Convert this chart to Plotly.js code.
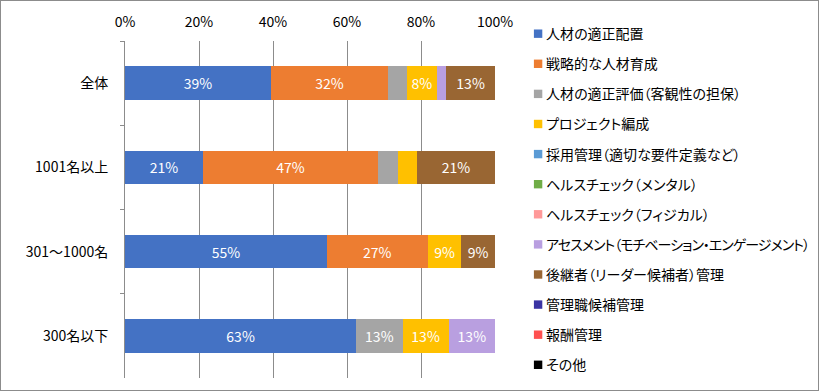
<!DOCTYPE html>
<html>
<head>
<meta charset="utf-8">
<script src="https://cdn.plot.ly/plotly-3.0.1.min.js"></script>
<style>
  html, body { margin: 0; padding: 0; background: #fff; }
  #chart { width: 817px; height: 389px; border: 1px solid #8c8c8c; }
  #chart .legend text { font-feature-settings: "palt" 1; }
  #chart .legend .legendpoints path { transform: translate(32px, 0px) scale(0.7); }
</style>
</head>
<body>
<div id="chart"></div>
<script>
// Categories (top to bottom)
const categories = ['全体', '1001名以上', '301～1000名', '300名以下'];

// Series names (legend order)
const seriesNames = [
  '人材の適正配置',
  '戦略的な人材育成',
  '人材の適正評価（客観性の担保）',
  'プロジェクト編成',
  '採用管理（適切な要件定義など）',
  'ヘルスチェック（メンタル）',
  'ヘルスチェック（フィジカル）',
  'アセスメント（モチベーション・エンゲージメント）',
  '後継者（リーダー候補者）管理',
  '管理職候補管理',
  '報酬管理',
  'その他'
];

const seriesColors = [
  '#4472C4', '#ED7D31', '#A5A5A5', '#FFC000', '#5B9BD5', '#70AD47',
  '#FF9999', '#B99FE0', '#996633', '#3A33A3', '#FF5050', '#000000'
];

// Values (%) per series, in category order
const tekiseiHaichi   = [39.47, 21.05, 54.55, 62.5];
const jinzaiIkusei    = [31.58, 47.37, 27.27, 0];
const tekiseiHyoka    = [5.26, 5.26, 0, 12.5];
const projectHensei   = [7.89, 5.26, 9.09, 12.5];
const saiyoKanri      = [0, 0, 0, 0];
const healthMental    = [0, 0, 0, 0];
const healthPhysical  = [0, 0, 0, 0];
const assessment      = [2.63, 0, 0, 12.5];
const koukeishaKanri  = [13.16, 21.05, 9.09, 0];
const kanrishokuKanri = [0, 0, 0, 0];
const hoshuKanri      = [0, 0, 0, 0];
const sonota          = [0, 0, 0, 0];

const seriesValues = [
  tekiseiHaichi, jinzaiIkusei, tekiseiHyoka, projectHensei, saiyoKanri,
  healthMental, healthPhysical, assessment, koukeishaKanri,
  kanrishokuKanri, hoshuKanri, sonota
];

// Axis ticks
const xTickVals = [0, 20, 40, 60, 80, 100];
const xTickText = ['0%', '20%', '40%', '60%', '80%', '100%'];

const FONT = '"Noto Sans CJK JP", "Noto Sans", sans-serif';

// condense very long legend labels slightly so they fit beside the plot
function legendLabel(name) {
  return name.length > 20 ? '<span style="letter-spacing:-1px">' + name + '</span>' : name;
}

const traces = seriesNames.map((name, i) => ({
  type: 'bar',
  orientation: 'h',
  name: legendLabel(name),
  y: categories,
  x: seriesValues[i],
  marker: { color: seriesColors[i], line: { width: 0 } },
  text: seriesValues[i].map(v => v >= 7 ? Math.round(v) + '%' : ''),
  textposition: 'inside',
  insidetextanchor: 'middle',
  textangle: 0,
  constraintext: 'none',
  textfont: { color: '#ffffff', size: 14, family: FONT },
  hoverinfo: 'skip',
  legendgroup: 'g' + i,
  width: 0.4
}));

const layout = {
  width: 817,
  height: 389,
  margin: { l: 124, r: 323, t: 40, b: 12, autoexpand: false },
  paper_bgcolor: '#ffffff',
  plot_bgcolor: '#ffffff',
  barmode: 'stack',
  font: { family: FONT, size: 14, color: '#000000' },
  showlegend: true,
  legend: {
    x: 1.030, xanchor: 'left',
    y: 1.068, yanchor: 'top',
    bgcolor: 'rgba(0,0,0,0)',
    traceorder: 'grouped',
    tracegroupgap: 8.9,
    maxheight: 600,
    font: { family: FONT, size: 14, color: '#000000' },
    itemclick: false,
    itemdoubleclick: false
  },
  xaxis: {
    side: 'top',
    range: [0, 100],
    tickvals: xTickVals,
    ticktext: xTickText,
    showgrid: true,
    gridcolor: '#8c8c8c',
    gridwidth: 1,
    zeroline: false,
    showline: false,
    ticks: '',
    ticklabelstandoff: 10,
    tickfont: { family: FONT, size: 14, color: '#000000' },
    fixedrange: true
  },
  yaxis: {
    type: 'category',
    categoryorder: 'array',
    categoryarray: categories,
    autorange: 'reversed',
    showline: true,
    linecolor: '#8c8c8c',
    linewidth: 1,
    ticks: 'outside',
    tickson: 'boundaries',
    ticklen: 4,
    tickcolor: '#8c8c8c',
    showgrid: false,
    zeroline: false,
    ticklabelstandoff: 13,
    tickfont: { family: FONT, size: 14, color: '#000000' },
    fixedrange: true
  }
};

Plotly.newPlot('chart', traces, layout, { displayModeBar: false, staticPlot: true });
</script>
</body>
</html>
